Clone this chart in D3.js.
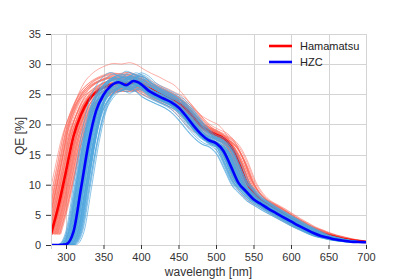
<!DOCTYPE html>
<html>
<head>
<meta charset="utf-8">
<script src="https://cdn.jsdelivr.net/npm/d3@7"></script>
<style>
  body { margin: 0; background: #fff; }
  svg { font-family: "Liberation Sans", Arial, sans-serif; }
</style>
</head>
<body>
<div id="chart"></div>
<script>
// wavelength samples [nm]
var wavelengths = [280, 290, 300, 310, 320, 330, 340, 350, 360, 370, 380, 390, 400, 410, 420, 430, 440, 450, 460, 470, 480, 490, 500,
  510, 520, 530, 540, 550, 560, 570, 580, 590, 600, 610, 620, 630, 640, 650, 660, 670, 680, 690, 700];

// mean QE curves [%]
var hamamatsuMean = [1.8, 6.5, 12.2, 18.0, 21.6, 24.0, 25.3, 26.1, 26.6, 26.9, 26.8, 27.0, 26.7, 26.0, 25.4, 24.9, 24.3, 23.7, 22.6, 21.2, 19.8, 18.9, 18.3,
  17.7, 16.3, 13.8, 10.6, 8.6, 7.4, 6.7, 6.0, 5.2, 4.4, 3.7, 3.0, 2.5, 2.0, 1.6, 1.3, 1.0, 0.8, 0.6, 0.5];
var hzcMean = [0, 0, 0.1, 2.2, 9.4, 16.8, 22.2, 24.9, 26.4, 27.0, 26.5, 27.2, 26.7, 25.6, 24.9, 24.3, 23.7, 22.8, 21.4, 19.8, 18.4, 17.4, 16.9,
  15.6, 13.0, 10.3, 8.9, 7.6, 6.8, 6.0, 5.3, 4.6, 3.9, 3.2, 2.6, 2.0, 1.5, 1.2, 0.9, 0.7, 0.55, 0.5, 0.45];

// individual sensors: gain and wavelength shift [nm] relative to the mean
var hamamatsuGain = [1.00, 0.97, 1.03, 0.98, 1.05, 0.95, 1.02, 1.12, 0.97, 1.01, 0.96, 1.04, 0.99, 1.06, 0.95, 1.03, 1.05, 0.98, 1.00, 0.96,
  1.03, 1.01, 0.97, 1.06, 0.95, 1.02, 0.99, 1.03, 0.96, 1.04, 1.00, 0.97, 1.05, 0.98, 1.02, 1.03, 0.96, 1.01, 0.99, 1.02,
  0.98, 1.04, 0.97, 1.01, 1.00, 0.96, 1.03, 0.99];
var hamamatsuShift = [-3, 5, -8, 9, -12, 2, -5, -6, 7, -1, 11, -6, 4, -10, 8, 0, -9, 12, -4, 6, -11, 3, 10, -7, 1, -2, 13, -13, 5, -8,
  -6, 9, -3, 2, 7, -10, 11, -1, 4, -5, -16, 6, -2, 3, 8, -9, 1, -4];
var hzcGain = [1.00, 0.97, 1.03, 0.99, 1.05, 0.96, 1.02, 1.04, 0.98, 1.01, 0.95, 1.03, 1.00, 1.06, 0.97, 1.02, 0.99, 1.04, 0.96, 1.01,
  1.03, 0.98, 1.00, 1.05, 0.97, 1.02, 0.99, 1.01, 0.96, 1.04, 0.98, 1.03, 1.00, 0.97, 1.02, 1.05, 0.99, 1.01, 0.98, 1.03,
  1.00, 0.97, 1.02, 0.99, 1.01, 0.96, 1.03, 0.98];
var hzcShift = [2, -6, 7, -3, 10, -9, 4, -1, 8, -7, 5, -4, 11, -10, 1, 6, -2, 9, -8, 3, -5, 0, 12, -6, 7, -3, 4, -9, 10, 2,
  -1, 8, -4, 6, -7, 3, -2, 14, 5, -5, 0, 3, -3, 6, -6, 1, 9, -1];

var xTicks = [300, 350, 400, 450, 500, 550, 600, 650, 700];
var yTicks = [0, 5, 10, 15, 20, 25, 30, 35];

var width = 407, height = 280;
var margin = { top: 34, right: 41, bottom: 35, left: 51 };

var svg = d3.select("#chart")
  .append("svg")
  .attr("width", width)
  .attr("height", height);

var x = d3.scaleLinear()
  .domain([280, 700])
  .range([margin.left, width - margin.right]);

var y = d3.scaleLinear()
  .domain([0, 35])
  .range([height - margin.bottom, margin.top]);

svg.append("defs").append("clipPath")
  .attr("id", "plot-clip")
  .append("rect")
  .attr("x", x.range()[0])
  .attr("y", y.range()[1])
  .attr("width", x.range()[1] - x.range()[0])
  .attr("height", y.range()[0] - y.range()[1]);

// grid
var grid = svg.append("g").attr("stroke", "#d4d4d4").attr("stroke-width", 1);
grid.selectAll(".gx")
  .data([280].concat(xTicks))
  .enter().append("line")
  .attr("x1", d => Math.round(x(d)) + 0.5)
  .attr("x2", d => Math.round(x(d)) + 0.5)
  .attr("y1", y.range()[0])
  .attr("y2", y.range()[1]);
grid.selectAll(".gy")
  .data(yTicks)
  .enter().append("line")
  .attr("x1", x.range()[0])
  .attr("x2", x.range()[1])
  .attr("y1", d => Math.round(y(d)) + 0.5)
  .attr("y2", d => Math.round(y(d)) + 0.5);

var line = d3.line()
  .x(d => x(d[0]))
  .y(d => y(d[1]))
  .curve(d3.curveMonotoneX);

function sensorCurve(mean, gain, shift) {
  return wavelengths.map((w, i) => [w + shift, mean[i] * gain]);
}

var plot = svg.append("g").attr("clip-path", "url(#plot-clip)");

// Hamamatsu: thin lines per sensor, then the mean
hamamatsuGain.forEach(function(g, i) {
  plot.append("path")
    .datum(sensorCurve(hamamatsuMean, g, hamamatsuShift[i]))
    .attr("fill", "none")
    .attr("stroke", "#fb6a5c")
    .attr("stroke-opacity", 0.6)
    .attr("stroke-width", 0.9)
    .attr("d", line);
});
plot.append("path")
  .datum(wavelengths.map((w, i) => [w, hamamatsuMean[i]]))
  .attr("fill", "none")
  .attr("stroke", "#ff0000")
  .attr("stroke-width", 2.6)
  .attr("d", line);

// HZC: thin lines per sensor, then the mean
hzcGain.forEach(function(g, i) {
  plot.append("path")
    .datum(sensorCurve(hzcMean, g, hzcShift[i]))
    .attr("fill", "none")
    .attr("stroke", "#4fa6dc")
    .attr("stroke-opacity", 0.75)
    .attr("stroke-width", 0.9)
    .attr("d", line);
});
plot.append("path")
  .datum(wavelengths.map((w, i) => [w, hzcMean[i]]))
  .attr("fill", "none")
  .attr("stroke", "#0000ff")
  .attr("stroke-width", 2.6)
  .attr("d", line);

// axes
var xAxis = svg.append("g")
  .attr("transform", "translate(0," + y.range()[0] + ")")
  .call(d3.axisBottom(x).tickValues(xTicks).tickSize(4).tickPadding(4));
var yAxis = svg.append("g")
  .attr("transform", "translate(" + x.range()[0] + ",0)")
  .call(d3.axisLeft(y).tickValues(yTicks).tickSize(5).tickPadding(5));

[xAxis, yAxis].forEach(function(a) {
  a.select(".domain").attr("stroke", "#d4d4d4");
  a.selectAll(".tick line").attr("stroke", "#333");
  a.selectAll(".tick text")
    .attr("fill", "#333")
    .style("font-size", "11px")
    .style("font-family", "Liberation Sans, Arial, sans-serif");
});

svg.append("text")
  .attr("x", (x.range()[0] + x.range()[1]) / 2)
  .attr("y", 276)
  .attr("text-anchor", "middle")
  .attr("fill", "#333")
  .style("font-size", "12px")
  .text("wavelength [nm]");

svg.append("text")
  .attr("transform", "translate(24,136) rotate(-90)")
  .attr("text-anchor", "middle")
  .attr("fill", "#333")
  .style("font-size", "12px")
  .text("QE [%]");

// legend
var legend = [["Hamamatsu", "#ff0000"], ["HZC", "#0000ff"]];
var lg = svg.append("g");
legend.forEach(function(item, i) {
  var ly = 46 + i * 16;
  lg.append("line")
    .attr("x1", 269).attr("x2", 292)
    .attr("y1", ly).attr("y2", ly)
    .attr("stroke", item[1])
    .attr("stroke-width", 2.6);
  lg.append("text")
    .attr("x", 300)
    .attr("y", ly + 4)
    .attr("fill", "#222")
    .style("font-size", "11px")
    .text(item[0]);
});
</script>
</body>
</html>
